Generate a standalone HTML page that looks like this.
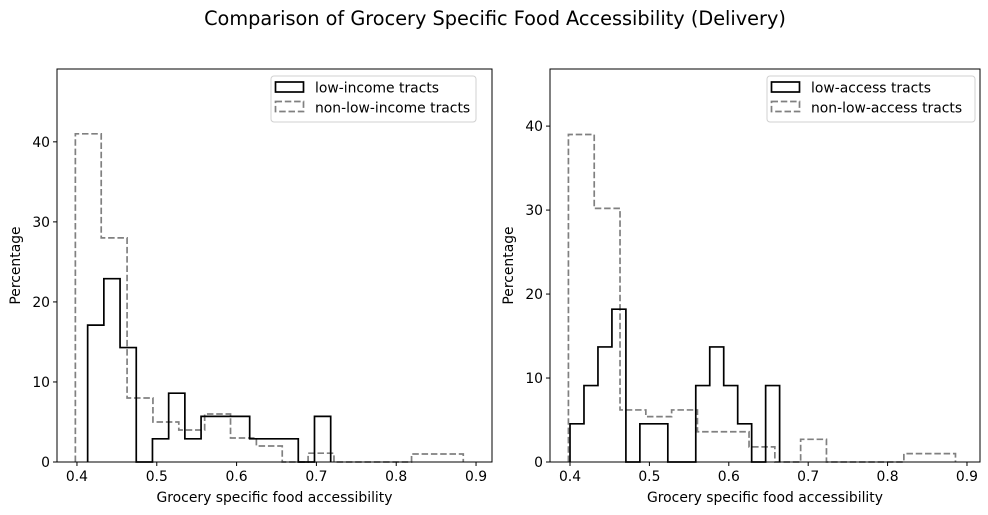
<!DOCTYPE html>
<html><head><meta charset="utf-8"><style>
body{margin:0;background:#fff;}
svg{display:block;font-family:"DejaVu Sans","Liberation Sans",sans-serif;}
</style></head><body>
<svg id="fig" width="988" height="515" viewBox="0 0 988 515" xmlns="http://www.w3.org/2000/svg">
<rect width="988" height="515" fill="#fff"/>
<text x="495" y="25" text-anchor="middle" font-size="19.3">Comparison of Grocery Specific Food Accessibility (Delivery)</text>
</svg>
<script>
// Left panel data
const leftBlackStart = 0.4134, leftBlackWidth = 0.0203;
const leftBlackValues = [17.1,22.9,14.3,0,2.9,8.6,2.9,5.7,5.7,5.7,2.9,2.9,2.9,0,5.7];
const leftGrayStart = 0.398, leftGrayWidth = 0.0324;
const leftGrayValues = [41,28,8,5,4,6,3,2,0,1.1,0,0,0,1,1];
// Right panel data
const rightBlackStart = 0.4, rightBlackWidth = 0.0176;
const rightBlackValues = [4.55,9.1,13.7,18.2,0,4.55,4.55,0,0,9.1,13.7,9.1,4.55,0,9.1];
const rightGrayStart = 0.398, rightGrayWidth = 0.0325;
const rightGrayValues = [39,30.2,6.2,5.4,6.2,3.6,3.6,1.8,0,2.7,0,0,0,1,1];
const xTicks = [0.4,0.5,0.6,0.7,0.8,0.9];
const leftYTicks = [0,10,20,30,40];
const rightYTicks = [0,10,20,30,40];

const NS="http://www.w3.org/2000/svg";
const svg=document.getElementById('fig');
function mk(tag,attrs,parent){const e=document.createElementNS(NS,tag);for(const k in attrs)e.setAttribute(k,attrs[k]);(parent||svg).appendChild(e);return e;}
const FS=13.9;
function panel(p){
  const g=mk('g',{});
  
  
  const X=v=>p.L+(v-p.xmin)/(p.xmax-p.xmin)*(p.R-p.L);
  const Y=v=>p.B-(v-0)/(p.ymax)*(p.B-p.T);
  function step(start,w,vals){
    let d=`M${X(start)},${Y(0)}`;
    vals.forEach((v,i)=>{d+=` L${X(start+i*w)},${Y(v)} L${X(start+(i+1)*w)},${Y(v)}`;});
    d+=` L${X(start+vals.length*w)},${Y(0)}`;
    return d;
  }
  const gp=mk('path',{d:step(p.gs,p.gw,p.gv),fill:'none',stroke:'#808080','stroke-width':1.7,'stroke-dasharray':'6.5,2.8'},g);
  
  
  const bp=mk('path',{d:step(p.bs,p.bw,p.bv),fill:'none',stroke:'#000','stroke-width':1.7},g);
  
  
  const fr=mk('rect',{x:p.L,y:p.T,width:p.R-p.L,height:p.B-p.T,fill:'none',stroke:'#000','stroke-width':1},g);
  
  
  xTicks.forEach(t=>{const x=X(t);
    mk('line',{x1:x,x2:x,y1:p.B,y2:p.B+4,stroke:'#000'},g);
    const tx=mk('text',{x:x,y:p.B+19,'text-anchor':'middle','font-size':FS},g);tx.textContent=String(t);
    
    });
  p.yt.forEach(t=>{const y=Y(t);
    mk('line',{x1:p.L-4,x2:p.L,y1:y,y2:y,stroke:'#000'},g);
    const tx=mk('text',{x:p.L-7,y:y+5,'text-anchor':'end','font-size':FS},g);tx.textContent=String(t);
    
    });
  const xl=mk('text',{x:(p.L+p.R)/2,y:502,'text-anchor':'middle','font-size':FS},g);xl.textContent='Grocery specific food accessibility';
  
  
  const yl=mk('text',{x:0,y:0,'text-anchor':'middle','font-size':FS,transform:`translate(${p.L-37},${(p.T+p.B)/2}) rotate(-90)`},g);yl.textContent='Percentage';
  
  
  const lg=mk('g',{},g);
  
  
  mk('rect',{x:p.lx,y:76,width:p.lw,height:46,rx:3,fill:'#fff',stroke:'#d0d0d0'},lg);
  mk('rect',{x:p.lx+4.5,y:82,width:28,height:10,fill:'none',stroke:'#000','stroke-width':1.7},lg);
  mk('rect',{x:p.lx+4.5,y:101.5,width:28,height:10,fill:'none',stroke:'#808080','stroke-width':1.7,'stroke-dasharray':'6.5,2.8'},lg);
  const t1=mk('text',{x:p.lx+44,y:92.5,'font-size':FS},lg);t1.textContent=p.l1;
  
  
  const t2=mk('text',{x:p.lx+44,y:112.5,'font-size':FS},lg);t2.textContent=p.l2;
  
  
}
panel({name:'left-chart',L:57,R:492,T:69,B:462,xmin:0.375,xmax:0.920,ymax:49.1,
  bs:leftBlackStart,bw:leftBlackWidth,bv:leftBlackValues,gs:leftGrayStart,gw:leftGrayWidth,gv:leftGrayValues,yt:leftYTicks,
  blackName:'low-income-histogram',grayName:'non-low-income-histogram',lx:271,lw:205,l1:'low-income tracts',l2:'non-low-income tracts'});
panel({name:'right-chart',L:550,R:980,T:69,B:462,xmin:0.3748,xmax:0.9164,ymax:46.8,
  bs:rightBlackStart,bw:rightBlackWidth,bv:rightBlackValues,gs:rightGrayStart,gw:rightGrayWidth,gv:rightGrayValues,yt:rightYTicks,
  blackName:'low-access-histogram',grayName:'non-low-access-histogram',lx:767,lw:208,l1:'low-access tracts',l2:'non-low-access tracts'});
</script>
</body></html>
